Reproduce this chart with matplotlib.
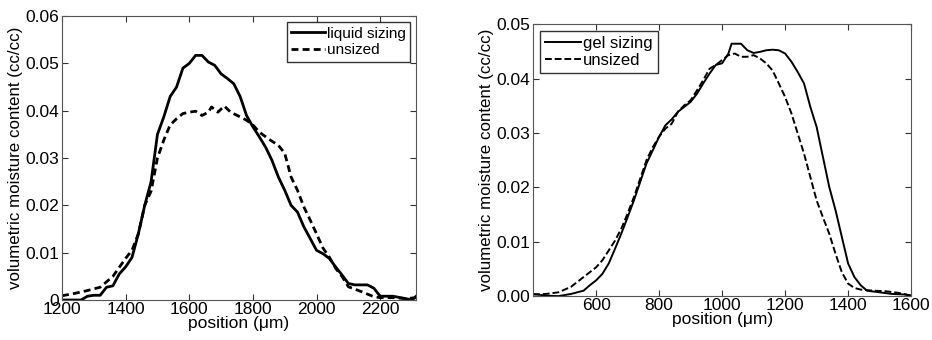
import matplotlib.pyplot as plt

plt.rcParams['font.family'] = ['Liberation Sans', 'DejaVu Sans']

# left panel: liquid sizing vs unsized
liq_x = [1200, 1260, 1280, 1300, 1320, 1340, 1360, 1380, 1400, 1420, 1440, 1460, 1480,
         1500, 1520, 1540, 1560, 1580, 1600, 1620, 1640, 1660, 1680, 1700, 1720, 1740,
         1760, 1780, 1800, 1820, 1840, 1860, 1880, 1900, 1920, 1940, 1960, 1980, 2000,
         2020, 2040, 2060, 2080, 2100, 2120, 2160, 2180, 2200, 2240, 2280, 2300, 2313]
liq_y = [0.0, 0.0, 0.0008, 0.001, 0.001, 0.0027, 0.003, 0.0055, 0.007, 0.009, 0.014,
         0.020, 0.025, 0.035, 0.0387, 0.043, 0.045, 0.049, 0.050, 0.0517, 0.0517, 0.0503,
         0.0496, 0.0478, 0.0468, 0.0457, 0.043, 0.039, 0.0366, 0.0345, 0.0323, 0.0295,
         0.026, 0.0232, 0.020, 0.0186, 0.0155, 0.013, 0.0105, 0.0098, 0.0088, 0.007,
         0.0053, 0.0035, 0.0032, 0.0032, 0.0025, 0.0008, 0.0008, 0.0003, 0.0, 0.0008]

uns1_x = [1200, 1240, 1280, 1320, 1360, 1400, 1420, 1440, 1460, 1480, 1500, 1520, 1540,
          1560, 1580, 1600, 1620, 1640, 1660, 1670, 1690, 1710, 1730, 1760, 1780, 1800,
          1820, 1850, 1880, 1900, 1920, 1940, 1960, 1980, 2000, 2020, 2040, 2060, 2080,
          2100, 2140, 2180, 2200, 2240, 2280, 2313]
uns1_y = [0.0009, 0.0014, 0.002, 0.0027, 0.005, 0.0088, 0.0105, 0.014, 0.020, 0.023,
          0.030, 0.0338, 0.037, 0.0383, 0.0394, 0.0397, 0.0399, 0.039, 0.0397, 0.0408,
          0.0397, 0.041, 0.0397, 0.0387, 0.038, 0.037, 0.0355, 0.034, 0.0327, 0.031,
          0.026, 0.0232, 0.0197, 0.0169, 0.014, 0.011, 0.0091, 0.0067, 0.005, 0.0028,
          0.0018, 0.0007, 0.0005, 0.0005, 0.0003, 0.0005]

# right panel: gel sizing vs unsized
gel_x = [400, 440, 480, 520, 560, 580, 600, 620, 640, 660, 680, 700, 720, 740, 760, 780,
         800, 820, 840, 860, 880, 900, 920, 940, 960, 980, 1000, 1020, 1030, 1060, 1080,
         1100, 1120, 1140, 1160, 1180, 1200, 1220, 1240, 1260, 1280, 1300, 1320, 1340,
         1360, 1380, 1400, 1420, 1440, 1460, 1500, 1540, 1580, 1600]
gel_y = [0.0004, 0.0001, 0.0, 0.0004, 0.001, 0.002, 0.0029, 0.0041, 0.006, 0.0087,
         0.0115, 0.0145, 0.0176, 0.021, 0.0244, 0.0268, 0.0293, 0.0314, 0.0325, 0.0339,
         0.0348, 0.0357, 0.0372, 0.0391, 0.0409, 0.0425, 0.0428, 0.0446, 0.0464, 0.0464,
         0.0452, 0.0447, 0.0449, 0.0452, 0.0453, 0.0452, 0.0446, 0.0431, 0.0412, 0.0391,
         0.0348, 0.0311, 0.0256, 0.0201, 0.0158, 0.0109, 0.006, 0.0035, 0.002, 0.001,
         0.0007, 0.0004, 0.0003, 0.0001]

uns2_x = [400, 440, 480, 520, 560, 580, 600, 620, 640, 660, 680, 700, 720, 740, 760, 780,
          800, 820, 840, 860, 880, 900, 920, 940, 960, 980, 1000, 1020, 1040, 1060, 1080,
          1100, 1120, 1140, 1160, 1180, 1200, 1220, 1240, 1260, 1280, 1300, 1320, 1340,
          1360, 1380, 1400, 1420, 1440, 1480, 1520, 1560, 1600]
uns2_y = [0.0003, 0.0004, 0.0007, 0.0017, 0.0035, 0.0044, 0.0053, 0.0066, 0.0084, 0.0102,
          0.0124, 0.0152, 0.0182, 0.0216, 0.025, 0.0274, 0.0293, 0.0308, 0.0317, 0.0339,
          0.0351, 0.036, 0.0378, 0.0397, 0.0418, 0.0425, 0.0434, 0.0443, 0.0446, 0.044,
          0.044, 0.0443, 0.0437, 0.0428, 0.0415, 0.0391, 0.0366, 0.0336, 0.0299, 0.0262,
          0.0219, 0.0176, 0.0145, 0.0115, 0.0078, 0.0044, 0.0023, 0.0015, 0.0012, 0.001,
          0.0009, 0.0006, 0.0001]

fig = plt.figure(figsize=(9.32, 3.4), dpi=100)
ax1 = fig.add_axes([0.0665, 0.1176, 0.38, 0.835])
ax2 = fig.add_axes([0.572, 0.129, 0.4056, 0.80])


def style(ax):
    ax.tick_params(direction='in', top=True, right=True, labelsize=12.5, length=4,
                   color='#333333')
    ax.tick_params(axis='x', pad=1.5)
    ax.tick_params(axis='y', pad=2)
    for s in ax.spines.values():
        s.set_color('#555555')
        s.set_linewidth(0.8)
    ax.set_xlabel('position (\u03bcm)', fontsize=12.5, labelpad=-1)
    ax.set_ylabel('volumetric moisture content (cc/cc)', fontsize=12.2, labelpad=2)


ax1.plot(liq_x, liq_y, color='black', lw=2, label='liquid sizing')
ax1.plot(uns1_x, uns1_y, color='black', lw=2, ls=(0, (2.5, 1.5)), label='unsized')
ax1.set_xlim(1200, 2313)
ax1.set_ylim(0, 0.06)
ax1.set_xticks([1200, 1400, 1600, 1800, 2000, 2200])
ax1.set_yticks([0, 0.01, 0.02, 0.03, 0.04, 0.05, 0.06])
ax1.set_yticklabels(['0', '0.01', '0.02', '0.03', '0.04', '0.05', '0.06'])
style(ax1)
leg1 = ax1.legend(loc='upper right', fontsize=11, fancybox=False, handlelength=2.2,
                  handletextpad=0.1, borderaxespad=0.4, borderpad=0.3, labelspacing=0.15)
leg1.get_frame().set_edgecolor('black')

ax2.plot(gel_x, gel_y, color='black', lw=1.4, label='gel sizing')
ax2.plot(uns2_x, uns2_y, color='black', lw=1.4, ls=(0, (3.5, 1.5)), label='unsized')
ax2.set_xlim(400, 1600)
ax2.set_ylim(0, 0.05)
ax2.set_xticks([600, 800, 1000, 1200, 1400, 1600])
ax2.set_yticks([0, 0.01, 0.02, 0.03, 0.04, 0.05])
ax2.set_yticklabels(['0.00', '0.01', '0.02', '0.03', '0.04', '0.05'])
style(ax2)
leg2 = ax2.legend(loc='upper left', fontsize=12, fancybox=False, handlelength=2.2,
                  handletextpad=0.1, borderaxespad=0.4, borderpad=0.3, labelspacing=0.15)
leg2.get_frame().set_edgecolor('black')

fig.savefig('out.png', dpi=100)
